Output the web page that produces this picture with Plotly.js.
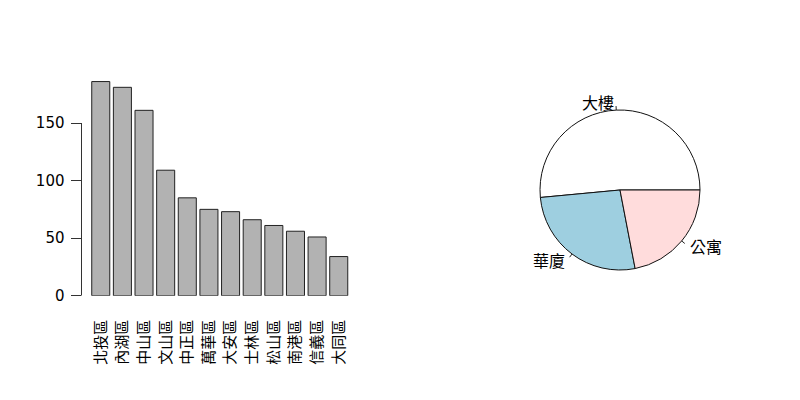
<!DOCTYPE html>
<html>
<head>
<meta charset="utf-8">
<script src="https://cdn.plot.ly/plotly-3.0.1.min.js"></script>
<style>
  html, body { margin: 0; padding: 0; background: #fff; }
  #chart { width: 800px; height: 400px; }
</style>
</head>
<body>
<div id="chart"></div>
<script>
// district counts (bar chart)
const districts = ['北投區', '內湖區', '中山區', '文山區', '中正區', '萬華區', '大安區', '士林區', '松山區', '南港區', '信義區', '大同區'];
const counts = [186, 181, 161, 109, 85, 75, 73, 66, 61, 56, 51, 34];
const yTicks = [0, 50, 100, 150];

// building types (pie chart)
const types = ['大樓', '華廈', '公寓'];
const typeCounts = [586, 302, 250];
const typeColors = ['#ffffff', '#9ecfe0', '#ffdcdc'];

const W = 800, H = 400;
const cjk = '"Noto Sans CJK TC", "Noto Sans CJK SC", sans-serif';

// pie placement in pixels
const pieCx = 620, pieCy = 190, pieR = 80;
const total = typeCounts.reduce((a, b) => a + b, 0);

const barTrace = {
  type: 'bar',
  x: districts,
  y: counts,
  marker: { color: '#b2b2b2', line: { color: '#222', width: 1 } },
  hoverinfo: 'none',
  xaxis: 'x',
  yaxis: 'y'
};

// plotly's ccw mode lays the first slice clockwise from `rotation`,
// so shift it back by that slice to start at 3 o'clock like base R pie()
const pieTrace = {
  type: 'pie',
  labels: types,
  values: typeCounts,
  sort: false,
  direction: 'counterclockwise',
  rotation: 90 - 360 * typeCounts[0] / total,
  textinfo: 'none',
  hoverinfo: 'none',
  showlegend: false,
  marker: { colors: typeColors, line: { color: '#111', width: 1 } },
  domain: {
    x: [(pieCx - pieR) / W, (pieCx + pieR) / W],
    y: [1 - (pieCy + pieR) / H, 1 - (pieCy - pieR) / H]
  }
};

// R-style labels: text at 1.1r, little tick from r to 1.05r
const annotations = [];
const shapes = [];
let cum = 0;
types.forEach((t, i) => {
  const mid = (cum + typeCounts[i] / 2) / total * 2 * Math.PI;
  cum += typeCounts[i];
  const c = Math.cos(mid), s = Math.sin(mid);
  const px = r => (pieCx + r * c) / W;
  const py = r => 1 - (pieCy - r * s) / H;
  shapes.push({
    type: 'line', xref: 'paper', yref: 'paper',
    x0: px(pieR), y0: py(pieR), x1: px(pieR * 1.05), y1: py(pieR * 1.05),
    line: { color: '#222', width: 1 }
  });
  annotations.push({
    xref: 'paper', yref: 'paper',
    x: px(pieR * 1.1), y: py(pieR * 1.1),
    xanchor: c > 0 ? 'left' : 'right', yanchor: 'middle',
    text: t, showarrow: false,
    font: { family: cjk, size: 16, color: '#000' }
  });
});

// y axis line only spans the tick range, like base R
shapes.push({
  type: 'line', xref: 'paper', yref: 'y',
  x0: 81.5 / W, x1: 81.5 / W, y0: yTicks[0], y1: yTicks[yTicks.length - 1],
  line: { color: '#333', width: 1 }
});

const layout = {
  width: W,
  height: H,
  margin: { l: 0, r: 0, t: 0, b: 0 },
  paper_bgcolor: '#fff',
  plot_bgcolor: '#fff',
  showlegend: false,
  bargap: 1 / 6,
  xaxis: {
    domain: [81.5 / W, 358 / W],
    range: [-0.89, 11.89],
    tickangle: -90,
    ticks: '',
    ticklabelstandoff: 20,
    showline: false,
    showgrid: false,
    zeroline: false,
    tickfont: { family: cjk, size: 15, color: '#000' },
    fixedrange: true
  },
  yaxis: {
    domain: [1 - 295.7 / H, 1 - 71.2 / H],
    range: [0, 195],
    tickvals: yTicks,
    ticktext: yTicks.map(String),
    ticks: 'outside',
    ticklen: 10,
    tickcolor: '#333',
    ticklabelstandoff: 3,
    showline: false,
    showgrid: false,
    zeroline: false,
    tickfont: { family: 'DejaVu Sans, sans-serif', size: 15, color: '#000' },
    fixedrange: true
  },
  shapes: shapes,
  annotations: annotations
};

Plotly.newPlot('chart', [barTrace, pieTrace], layout, { staticPlot: true });
</script>
</body>
</html>
